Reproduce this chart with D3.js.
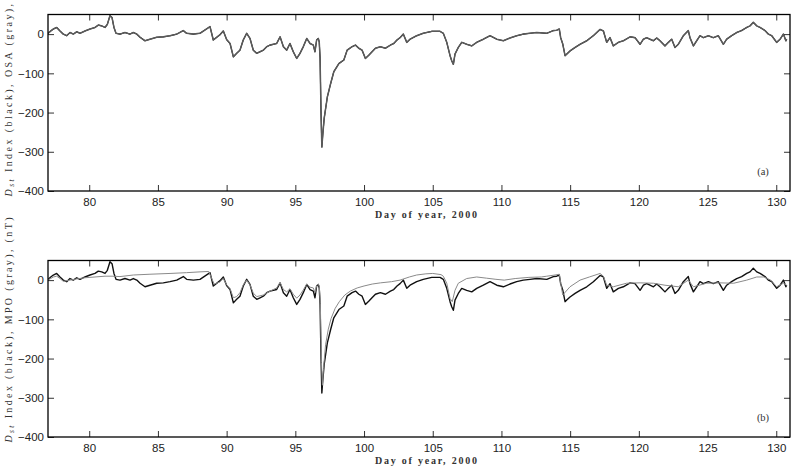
<!DOCTYPE html>
<html>
<head>
<meta charset="utf-8">
<script src="https://cdn.jsdelivr.net/npm/d3@7"></script>
<style>
  body { margin: 0; background: #fff; }
  .tick text { font-family: "Liberation Sans", Arial, sans-serif; font-size: 11.5px; fill: #222; }
  .tick line { stroke: #333; }
  .serif { font-family: "Liberation Serif", "DejaVu Serif", serif; fill: #333; }
</style>
</head>
<body>
<div id="chart"></div>
<script>
"use strict";
// Dst index (black), day of year 2000
const dstDays = [77.0, 77.2, 77.39, 77.63, 77.87, 78.11, 78.36, 78.6, 78.84, 79.09, 79.33, 79.69, 80.06, 80.42, 80.66, 80.91, 81.15, 81.32, 81.51, 81.66, 81.8, 81.95, 82.24, 82.6, 82.97, 83.21, 83.46, 83.7, 84.06, 84.42, 84.91, 85.39, 85.88, 86.37, 86.85, 87.09, 87.58, 88.06, 88.79, 89.03, 89.5, 89.76, 90.0, 90.25, 90.49, 90.73, 90.97, 91.21, 91.46, 91.7, 91.94, 92.19, 92.43, 92.67, 92.92, 93.16, 93.64, 93.89, 94.13, 94.37, 94.61, 94.85, 95.1, 95.34, 95.58, 95.83, 96.07, 96.31, 96.43, 96.55, 96.67, 96.74, 96.8, 96.87, 96.93, 97.0, 97.1, 97.33, 97.57, 97.8, 98.17, 98.53, 98.77, 99.13, 99.38, 99.62, 99.86, 100.1, 100.34, 100.58, 100.83, 101.19, 101.56, 101.92, 102.16, 102.4, 102.62, 102.86, 103.11, 103.35, 103.83, 104.31, 104.93, 105.53, 105.77, 106.02, 106.26, 106.38, 106.5, 106.62, 106.86, 107.11, 107.47, 107.84, 108.2, 108.68, 109.17, 109.66, 110.14, 110.62, 111.11, 111.59, 112.08, 112.57, 113.3, 113.78, 114.02, 114.21, 114.31, 114.46, 114.63, 114.75, 114.99, 115.36, 115.72, 116.21, 116.69, 117.18, 117.42, 117.66, 117.9, 118.14, 118.51, 118.87, 119.36, 119.72, 120.09, 120.33, 120.57, 120.81, 121.06, 121.3, 121.54, 121.9, 122.15, 122.39, 122.63, 122.87, 123.24, 123.6, 123.72, 123.97, 124.21, 124.45, 124.69, 125.06, 125.42, 125.78, 126.15, 126.39, 126.75, 127.12, 127.48, 127.85, 128.09, 128.33, 128.58, 128.82, 129.18, 129.42, 129.67, 130.03, 130.28, 130.52, 130.7, 130.76];
const dstValues = [2, 8, 13, 17, 8, 0, -4, 4, 0, 6, 2, 8, 13, 17, 23, 21, 17, 25, 47, 42, 17, 2, 0, 4, 0, 4, 0, -8, -17, -13, -8, -7, -4, 0, 9, 2, 0, 2, 19, -15, -2, 8, -14, -24, -58, -49, -41, -15, 2, -11, -41, -49, -45, -41, -32, -28, -24, -7, -32, -41, -24, -45, -62, -49, -32, -11, -24, -28, -45, -15, -11, -20, -60, -200, -288, -255, -215, -160, -126, -96, -75, -66, -41, -32, -28, -36, -41, -62, -54, -45, -36, -32, -36, -28, -24, -15, -9, 0, -21, -13, -4, 2, 7, 7, 2, -21, -55, -68, -77, -51, -34, -21, -26, -30, -21, -13, -4, -13, -17, -10, -4, 0, 2, 4, 2, 9, 10, 13, -9, -25, -55, -51, -43, -34, -26, -17, -4, 12, 8, -21, -9, -30, -21, -17, -7, -9, -26, -13, -9, -13, -17, -10, -17, -30, -21, -13, -34, -26, -4, 9, -9, -30, -17, -4, -9, -4, -9, -4, -26, -13, -4, 4, 9, 17, 21, 30, 21, 17, 9, 0, -4, -21, -13, 0, -17, -13];
// OSA model (gray, panel a) lies on the Dst trace at this scale
const osaDays = dstDays;
const osaValues = dstValues;
// MPO model (gray, panel b)
const mpoDays = [77.0, 77.39, 77.63, 77.87, 78.11, 78.6, 79.09, 79.69, 80.42, 81.15, 81.66, 82.24, 83.21, 84.42, 85.88, 87.09, 88.06, 88.7, 88.9, 89.1, 89.5, 89.76, 90.0, 90.25, 90.49, 90.73, 90.97, 91.21, 91.46, 91.7, 91.94, 92.19, 92.67, 93.16, 93.64, 93.89, 94.13, 94.37, 94.61, 94.85, 95.1, 95.34, 95.58, 95.83, 96.07, 96.31, 96.43, 96.55, 96.67, 96.74, 96.82, 96.9, 96.97, 97.05, 97.2, 97.4, 97.6, 97.9, 98.2, 98.6, 99.0, 99.5, 100.0, 100.6, 101.2, 102.0, 102.62, 103.3, 103.83, 104.5, 105.0, 105.6, 105.77, 106.02, 106.26, 106.42, 106.62, 106.86, 107.47, 108.2, 108.9, 109.6, 110.2, 111.0, 112.0, 112.9, 113.3, 113.9, 114.21, 114.3, 114.46, 114.99, 115.72, 116.4, 117.18, 117.42, 117.66, 118.14, 119.1, 120.09, 121.06, 121.9, 122.87, 123.6, 123.97, 124.93, 125.9, 126.9, 127.85, 128.58, 129.1, 129.6, 130.03, 130.52, 130.76];
const mpoValues = [0, 8, 10, 4, -3, 0, 3, 6, 8, 10, 10, 9, 13, 15, 17, 19, 21, 22, 5, -10, -5, 4, -12, -22, -45, -42, -32, -12, 0, -12, -33, -42, -38, -28, -20, -6, -24, -30, -22, -36, -46, -38, -25, -10, -18, -20, -32, -14, -10, -16, -60, -210, -268, -225, -165, -125, -98, -72, -55, -38, -28, -20, -15, -10, -7, -4, 0, 8, 13, 16, 17, 14, 10, -8, -47, -55, -26, -8, 4, 8, 5, 2, 0, 4, 7, 8, 10, 13, 15, -5, -38, -17, 0, 8, 17, 10, -13, -17, -8, -7, -8, -13, -17, 0, -17, -8, -7, -8, 0, 8, 8, 0, -17, -8, -13];

const xTicks = [80, 85, 90, 95, 100, 105, 110, 115, 120, 125, 130];
const yTicks = [0, -100, -200, -300, -400];
const xLabel = "Day of year, 2000";

const panels = [
  { tag: "(a)", model: "OSA", days: osaDays, values: osaValues, top: 14.5,
    dstStroke: "#000", dstWidth: 1.1, modelStroke: "#5a5a5a", modelWidth: 1.5 },
  { tag: "(b)", model: "MPO", days: mpoDays, values: mpoValues, top: 260.5,
    dstStroke: "#111", dstWidth: 1.4, modelStroke: "#8a8a8a", modelWidth: 1 }
];

const width = 797, height = 468;
const left = 48, right = 790, panelHeight = 176.5;

const svg = d3.select("#chart").append("svg")
    .attr("width", width)
    .attr("height", height);

const x = d3.scaleLinear().domain([77, 131]).range([left, right]);
const y = d3.scaleLinear().domain([-400, 50]).range([panelHeight, 0]);

const line = d3.line()
    .x(d => x(d[0]))
    .y(d => y(d[1]));

panels.forEach((p, i) => {
  const g = svg.append("g").attr("transform", `translate(0, ${p.top})`);

  g.append("clipPath").attr("id", `clip${i}`)
    .append("rect")
    .attr("x", left).attr("y", 0)
    .attr("width", right - left).attr("height", panelHeight);

  const plot = g.append("g").attr("clip-path", `url(#clip${i})`);

  plot.append("path")
      .datum(d3.zip(dstDays, dstValues))
      .attr("fill", "none").attr("stroke", p.dstStroke).attr("stroke-width", p.dstWidth)
      .attr("stroke-linejoin", "round")
      .attr("d", line);
  plot.append("path")
      .datum(d3.zip(p.days, p.values))
      .attr("fill", "none").attr("stroke", p.modelStroke).attr("stroke-width", p.modelWidth)
      .attr("stroke-linejoin", "round")
      .attr("d", line);

  // axes with inward ticks on all four sides
  g.append("g")
      .attr("transform", `translate(0, ${panelHeight})`)
      .call(d3.axisBottom(x).tickValues(xTicks).tickSizeInner(-6).tickSizeOuter(0).tickPadding(7))
      .call(a => a.select(".domain").remove());
  g.append("g")
      .call(d3.axisTop(x).tickValues(xTicks).tickSizeInner(-6).tickSizeOuter(0).tickFormat(""))
      .call(a => a.select(".domain").remove());
  g.append("g")
      .attr("transform", `translate(${left}, 0)`)
      .call(d3.axisLeft(y).tickValues(yTicks).tickSizeInner(-6).tickSizeOuter(0).tickPadding(4)
        .tickFormat(d => d < 0 ? "\u2212" + Math.abs(d) : d))
      .call(a => a.select(".domain").remove());
  g.append("g")
      .attr("transform", `translate(${right}, 0)`)
      .call(d3.axisRight(y).tickValues(yTicks).tickSizeInner(-6).tickSizeOuter(0).tickFormat(""))
      .call(a => a.select(".domain").remove());

  g.append("rect")
      .attr("x", left).attr("y", 0)
      .attr("width", right - left).attr("height", panelHeight)
      .attr("fill", "none").attr("stroke", "#000").attr("stroke-width", 1.3);

  g.append("text")
      .attr("class", "serif")
      .attr("x", 426).attr("y", panelHeight + 27)
      .attr("text-anchor", "middle")
      .attr("font-size", 10).attr("font-weight", "bold")
      .attr("textLength", 102).attr("lengthAdjust", "spacing")
      .text(xLabel);

  g.append("text")
      .attr("class", "serif")
      .attr("x", 763).attr("y", panelHeight - 16)
      .attr("text-anchor", "middle")
      .attr("font-size", 10.5)
      .text(p.tag);

  const yl = g.append("text")
      .attr("class", "serif")
      .attr("transform", `translate(12, ${panelHeight + 5.5}) rotate(-90)`)
      .attr("font-size", 10)
      .attr("textLength", 225).attr("lengthAdjust", "spacing");
  yl.append("tspan").attr("font-style", "italic").text("D");
  yl.append("tspan").attr("font-style", "italic").attr("font-size", 7.5).attr("dy", 2).text("st");
  yl.append("tspan").attr("dy", -2).text(` Index (black), ${p.model} (gray), (nT)`);
});
</script>
</body>
</html>
